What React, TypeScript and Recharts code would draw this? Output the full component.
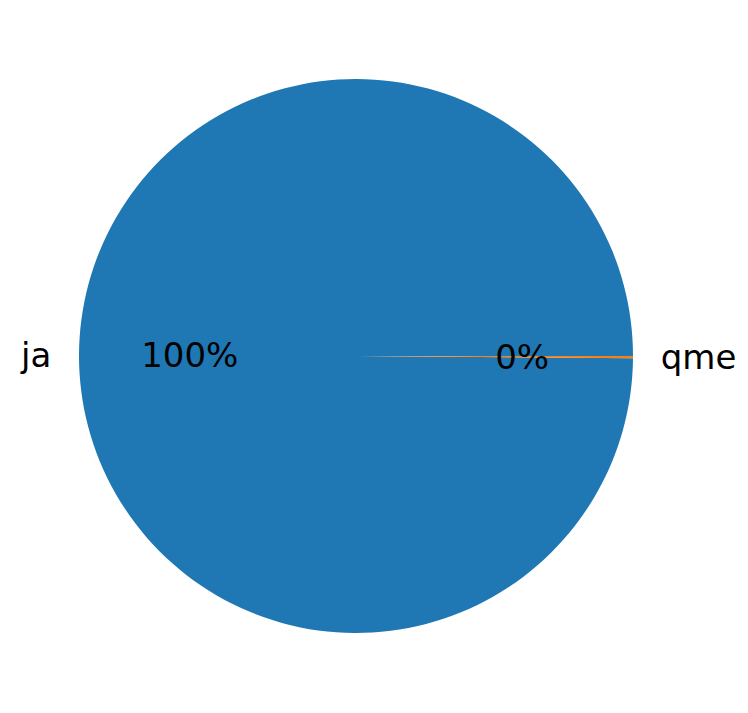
import { PieChart, Pie, Cell } from "recharts";

const names = ["ja", "qme"];
const values = [799, 1];
const colors = ["#1f77b4", "#ff7f0e"];

const data = names.map((name, i) => ({ name, value: values[i] }));

const RADIAN = Math.PI / 180;

const renderLabel = (props: any) => {
  const { cx, cy, midAngle, outerRadius, percent, name } = props;
  const cos = Math.cos(-midAngle * RADIAN);
  const sin = Math.sin(-midAngle * RADIAN);
  const lx = cx + outerRadius * 1.1 * cos;
  const ly = cy + outerRadius * 1.1 * sin;
  const px = cx + outerRadius * 0.6 * cos;
  const py = cy + outerRadius * 0.6 * sin;
  return (
    <g>
      <text
        x={lx}
        y={ly}
        fill="#000"
        fontSize={34}
        fontFamily="DejaVu Sans"
        textAnchor={cos < 0 ? "end" : "start"}
        dominantBaseline="central"
      >
        {name}
      </text>
      <text
        x={px}
        y={py}
        fill="#000"
        fontSize={34}
        fontFamily="DejaVu Sans"
        textAnchor="middle"
        dominantBaseline="central"
      >
        {`${Math.round(percent * 100)}%`}
      </text>
    </g>
  );
};

export default function App() {
  return (
    <div style={{ position: "absolute", left: 0, top: 0, background: "#fff" }}>
      <PieChart width={748} height={713} margin={{ top: 0, right: 0, bottom: 0, left: 0 }}>
        <Pie
          data={data}
          dataKey="value"
          nameKey="name"
          cx={356}
          cy={356}
          outerRadius={277}
          startAngle={0}
          endAngle={360}
          stroke="none"
          label={renderLabel}
          labelLine={false}
          isAnimationActive={false}
        >
          {data.map((d, i) => (
            <Cell key={d.name} fill={colors[i]} />
          ))}
        </Pie>
      </PieChart>
    </div>
  );
}
